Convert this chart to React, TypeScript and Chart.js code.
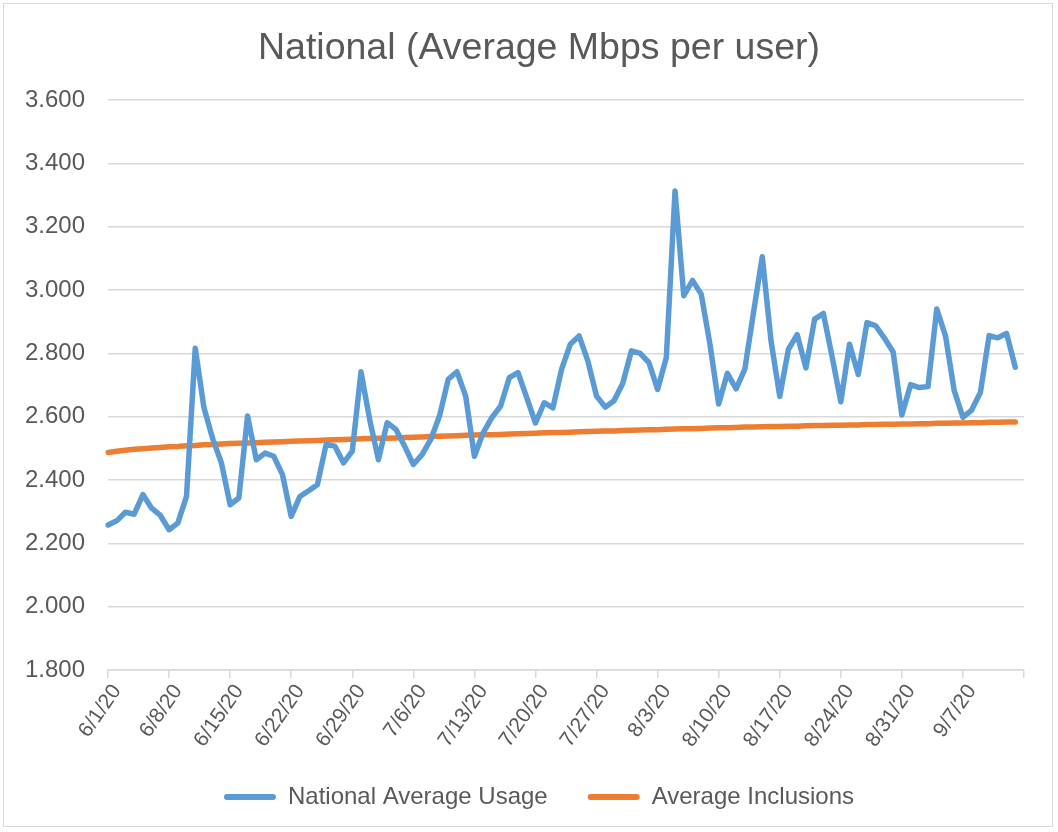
import React, { useEffect, useRef } from "react";
import { Chart, registerables } from "chart.js";

Chart.register(...registerables);

const TITLE = "National (Average Mbps per user)";
const SERIES_NAMES = ["National Average Usage", "Average Inclusions"];
const SERIES_COLORS = ["#5b9bd5", "#ed7d31"];

// daily categories 6/1/20 .. 9/14/20 (axis end), data through 9/13/20
const START_MONTH = 6;
const START_DAY = 1;
const DAY_COUNT = 106;

const nationalUsage = [
  2.258, 2.271, 2.298, 2.292, 2.354, 2.311, 2.288, 2.243, 2.264, 2.348,
  2.816, 2.628, 2.530, 2.454, 2.322, 2.343, 2.602, 2.464, 2.485, 2.475,
  2.417, 2.285, 2.348, 2.366, 2.385, 2.512, 2.507, 2.454, 2.491, 2.742,
  2.590, 2.464, 2.581, 2.560, 2.507, 2.449, 2.480, 2.528, 2.602, 2.718,
  2.742, 2.665, 2.475, 2.549, 2.597, 2.633, 2.723, 2.739, 2.660, 2.580,
  2.644, 2.628, 2.750, 2.829, 2.855, 2.776, 2.665, 2.630, 2.650, 2.705,
  2.808, 2.800, 2.771, 2.686, 2.787, 3.313, 2.982, 3.030, 2.987, 2.829,
  2.640, 2.737, 2.688, 2.750, 2.930, 3.105, 2.840, 2.664, 2.813, 2.859,
  2.754, 2.908, 2.926, 2.790, 2.647, 2.829, 2.733, 2.897, 2.887, 2.848,
  2.804, 2.605, 2.701, 2.692, 2.695, 2.940, 2.855, 2.682, 2.598, 2.621,
  2.676, 2.856, 2.849, 2.863, 2.756,
];

const averageInclusions = [
  2.487, 2.491, 2.494, 2.497, 2.499, 2.501, 2.503, 2.505, 2.506, 2.508,
  2.509, 2.511, 2.512, 2.514, 2.515, 2.516, 2.517, 2.518, 2.519, 2.520,
  2.521, 2.522, 2.523, 2.524, 2.525, 2.526, 2.527, 2.528, 2.529, 2.530,
  2.531, 2.532, 2.532, 2.533, 2.534, 2.535, 2.536, 2.537, 2.538, 2.539,
  2.540, 2.541, 2.542, 2.543, 2.543, 2.544, 2.545, 2.546, 2.547, 2.548,
  2.549, 2.550, 2.550, 2.551, 2.552, 2.553, 2.554, 2.555, 2.555, 2.556,
  2.557, 2.558, 2.559, 2.559, 2.560, 2.561, 2.562, 2.562, 2.563, 2.564,
  2.565, 2.565, 2.566, 2.567, 2.567, 2.568, 2.569, 2.569, 2.570, 2.570,
  2.571, 2.572, 2.572, 2.573, 2.573, 2.574, 2.574, 2.575, 2.575, 2.576,
  2.576, 2.577, 2.577, 2.578, 2.578, 2.579, 2.579, 2.580, 2.580, 2.581,
  2.581, 2.582, 2.582, 2.583, 2.583,
];

const Y_MIN = 1.8;
const Y_MAX = 3.6;
const Y_STEP = 0.2;
const TICK_EVERY = 7;
const LAST_LABELED_INDEX = 98; // 9/7/20

function buildDayLabels(): string[] {
  const out: string[] = [];
  const d = new Date(2020, START_MONTH - 1, START_DAY);
  for (let i = 0; i < DAY_COUNT; i++) {
    out.push(`${d.getMonth() + 1}/${d.getDate()}/20`);
    d.setDate(d.getDate() + 1);
  }
  return out;
}

const FONT = "'Liberation Sans', Arial, sans-serif";
const TEXT = "#595959";
const GRID = "#d9d9d9";

export default function App() {
  const ref = useRef<HTMLCanvasElement | null>(null);

  useEffect(() => {
    if (!ref.current) return;
    const labels = buildDayLabels();
    const noClip = (s: any) => {
      s._computeLabelArea = () => undefined;
    };
    const chart = new Chart(ref.current, {
      type: "line",
      data: {
        labels,
        datasets: [
          {
            label: SERIES_NAMES[0],
            data: nationalUsage,
            borderColor: SERIES_COLORS[0],
            backgroundColor: SERIES_COLORS[0],
            borderWidth: 5.5,
            pointRadius: 0,
            tension: 0,
            borderCapStyle: "round",
            borderJoinStyle: "round",
          },
          {
            label: SERIES_NAMES[1],
            data: averageInclusions,
            borderColor: SERIES_COLORS[1],
            backgroundColor: SERIES_COLORS[1],
            borderWidth: 5.5,
            pointRadius: 0,
            tension: 0,
            borderCapStyle: "round",
            borderJoinStyle: "round",
          },
        ],
      },
      options: {
        responsive: false,
        animation: false,
        layout: { padding: { left: 54, right: 34, top: 0, bottom: 13 } },
        font: { family: FONT },
        plugins: {
          title: {
            display: true,
            text: TITLE,
            color: TEXT,
            font: { family: FONT, size: 37.5, weight: "normal" },
            padding: { top: 26, bottom: 29 },
          },
          legend: {
            position: "bottom",
            labels: {
              color: TEXT,
              font: { family: FONT, size: 24 },
              boxWidth: 52,
              boxHeight: 6,
              padding: 40,
              generateLabels: (c: any) =>
                c.data.datasets.map((ds: any, i: number) => ({
                  text: ds.label,
                  fillStyle: ds.borderColor,
                  strokeStyle: ds.borderColor,
                  lineWidth: 0,
                  borderRadius: 3,
                  fontColor: TEXT,
                  datasetIndex: i,
                  hidden: false,
                })),
            },
          },
          tooltip: { enabled: false },
        },
        scales: {
          x: {
            offset: false,
            afterFit: (s: any) => {
              s.height = 75;
              noClip(s);
            },
            grid: {
              drawOnChartArea: false,
              drawTicks: true,
              tickLength: 8,
              lineWidth: 1.5,
              color: (ctx: any) =>
                ctx.index % TICK_EVERY === 0 ? GRID : "rgba(0,0,0,0)",
            },
            border: { display: true, color: GRID, width: 1.5 },
            ticks: {
              autoSkip: false,
              maxRotation: 55,
              minRotation: 55,
              padding: 2,
              labelOffset: 9,
              color: TEXT,
              font: { family: FONT, size: 21 },
              callback: (_v: any, i: number) =>
                i % TICK_EVERY === 0 && i <= LAST_LABELED_INDEX ? labels[i] : "",
            },
          },
          y: {
            min: Y_MIN,
            max: Y_MAX,
            afterFit: (s: any) => {
              s.width = 54;
              noClip(s);
            },
            grid: { color: GRID, lineWidth: 1.5, drawTicks: false },
            border: { display: false },
            ticks: {
              stepSize: Y_STEP,
              padding: 23,
              color: TEXT,
              font: { family: FONT, size: 24 },
              callback: (v: any) => Number(v).toFixed(3),
            },
          },
        },
      },
    });
    return () => chart.destroy();
  }, []);

  return (
    <div style={{ position: "absolute", left: 0, top: 0, width: 1058, height: 832, background: "#fff" }}>
      <canvas ref={ref} width={1058} height={832} style={{ display: "block" }} />
      <div
        style={{
          position: "absolute",
          left: 3,
          top: 3,
          width: 1048,
          height: 822,
          border: "1px solid #d9d9d9",
          pointerEvents: "none",
        }}
      />
    </div>
  );
}
